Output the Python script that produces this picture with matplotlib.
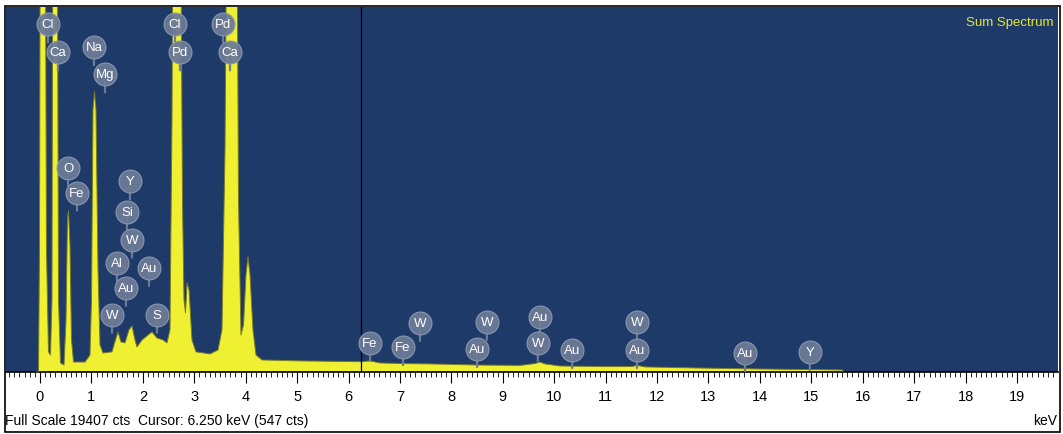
import matplotlib
matplotlib.use("Agg")
import matplotlib.pyplot as plt
from matplotlib.ticker import MultipleLocator
from matplotlib.patches import Rectangle

plt.rcParams['font.family'] = ['Liberation Sans', 'DejaVu Sans']

# ---- data (energy keV, counts) ----
energy_kev = [-0.078, -0.029, -0.010, 0.010, 0.097, 0.126, 0.165, 0.204, 0.233, 0.253,
              0.331, 0.360, 0.399, 0.467, 0.506, 0.535, 0.554, 0.583, 0.613, 0.652,
              0.875, 0.972, 1.002, 1.031, 1.060, 1.089, 1.128, 1.167, 1.225, 1.400,
              1.468, 1.517, 1.575, 1.653, 1.731, 1.789, 1.848, 1.886, 1.984, 2.081,
              2.178, 2.275, 2.392, 2.470, 2.528, 2.567, 2.596, 2.723, 2.771, 2.800,
              2.830, 2.859, 2.898, 2.956, 3.034, 3.306, 3.462, 3.539, 3.598, 3.646,
              3.821, 3.860, 3.909, 3.958, 4.006, 4.045, 4.084, 4.142, 4.201, 4.318,
              5.056, 6.250, 6.420, 6.610, 7.060, 7.580, 8.520, 9.330, 9.630, 9.720,
              9.820, 10.110, 10.890, 11.510, 11.610, 11.770, 12.840, 14.000, 15.600, 15.620]
counts = [0, 0, 6500, 30000, 30000, 6500, 1070, 900, 3840, 30000,
          30000, 3840, 480, 370, 2770, 8200, 8580, 6770, 1700, 530,
          530, 900, 3840, 13960, 14920, 13960, 5440, 1440, 1010, 1070,
          1700, 2130, 1600, 1550, 2240, 2450, 1700, 1330, 1700, 1920,
          2130, 1810, 1700, 1550, 2240, 13430, 30000, 30000, 9170, 3840,
          3140, 4740, 4370, 1700, 1070, 960, 1170, 2240, 11830, 30000,
          30000, 9170, 1970, 2510, 5170, 6130, 5170, 2240, 900, 640,
          590, 547, 590, 480, 450, 430, 370, 350, 450, 530,
          430, 320, 290, 290, 350, 270, 210, 160, 110, 0]

full_scale = 19407
cursor_kev = 6.250
cursor_cts = 547

tick_labels = [str(i) for i in range(0, 20)]

# element markers: label, energy (keV), height (counts)
marker_labels = ['Cl', 'Ca', 'Na', 'Mg', 'O', 'Fe', 'Y', 'Si', 'W', 'Al', 'Au', 'Au', 'W', 'S',
                 'Cl', 'Pd', 'Pd', 'Ca', 'Fe', 'Fe', 'W', 'W', 'Au', 'Au', 'W', 'Au', 'W', 'Au',
                 'Au', 'Y']
marker_kev = [0.156, 0.350, 1.050, 1.264, 0.545, 0.720, 1.750, 1.692, 1.789, 1.497, 2.120,
              1.672, 1.400, 2.275, 2.625, 2.723, 3.559, 3.695, 6.418, 7.060, 7.390, 8.690,
              8.500, 9.720, 9.680, 10.350, 11.610, 11.610, 13.710, 14.970]
marker_cts = [18495, 17000, 17270, 15830, 10870, 9540, 10130, 8530, 7040, 5810, 5540,
              4480, 3040, 3040, 18495, 17000, 18495, 17000, 1550, 1330, 2610, 2665,
              1230, 2930, 1550, 1170, 2665, 1170, 1010, 1070]

# ---- figure ----
W, H = 1063, 435
fig = plt.figure(figsize=(W / 100, H / 100), dpi=100)
fig.patch.set_facecolor('white')

left_px, right_px, top_px, bot_px = 6, 1058, 8, 373
ax = fig.add_axes([left_px / W, (H - bot_px) / H, (right_px - left_px) / W, (bot_px - top_px) / H])
ax.set_facecolor('#1E3A68')

ax.fill_between(energy_kev, counts, 0, color='#F0F032', lw=0, zorder=2)
ax.plot(energy_kev, counts, color='#7A7A28', lw=0.7, zorder=3)

ax.axvline(cursor_kev, color='black', lw=0.9, zorder=4)

ax.set_xlim(-0.661, 19.797)
ax.set_ylim(0, full_scale)
ax.set_yticks([])

ax.xaxis.set_major_locator(MultipleLocator(1))
ax.xaxis.set_minor_locator(MultipleLocator(0.1))
ax.set_xticks(range(0, 20))
ax.set_xticklabels(tick_labels, fontsize=10.5)
ax.tick_params(axis='x', which='major', direction='out', length=8, width=0.8, pad=4, colors='black')
ax.tick_params(axis='x', which='minor', direction='out', length=3.5, width=0.6)
for s in ['top', 'left', 'right']:
    ax.spines[s].set_visible(False)
ax.spines['bottom'].set_color('black')
ax.spines['bottom'].set_linewidth(1.2)

# element markers
bubble_col = '#6B7A96'
for lbl, e, c in zip(marker_labels, marker_kev, marker_cts):
    ax.annotate('', xy=(e, c), xycoords='data', xytext=(0, -13), textcoords='offset points',
                arrowprops=dict(arrowstyle='-', color=bubble_col, lw=1.6, shrinkA=0, shrinkB=0),
                zorder=5)
    ax.plot([e], [c], 'o', ms=16.5, color=bubble_col, mec='#8C99B0', mew=0.8, alpha=0.95,
            zorder=6, clip_on=False)
    ax.text(e, c, lbl, color='white', fontsize=9.5, ha='center', va='center', zorder=7)

ax.text(0.996, 0.975, 'Sum Spectrum', transform=ax.transAxes, color='#E6E632',
        fontsize=9.5, ha='right', va='top')

fig.text(5 / W, 1 - 421 / H, f'Full Scale {full_scale} cts  Cursor: {cursor_kev:.3f} keV ({cursor_cts} cts)',
         fontsize=10, ha='left', va='center')
fig.text(1057 / W, 1 - 421 / H, 'keV', fontsize=10, ha='right', va='center')

# outer frame
fig.patches.append(Rectangle((5 / W, 1 - 433 / H), (1060 - 5) / W, (433 - 7) / H,
                             transform=fig.transFigure, fill=False, ec='black', lw=1.2))

fig.savefig('out.png', dpi=100)
